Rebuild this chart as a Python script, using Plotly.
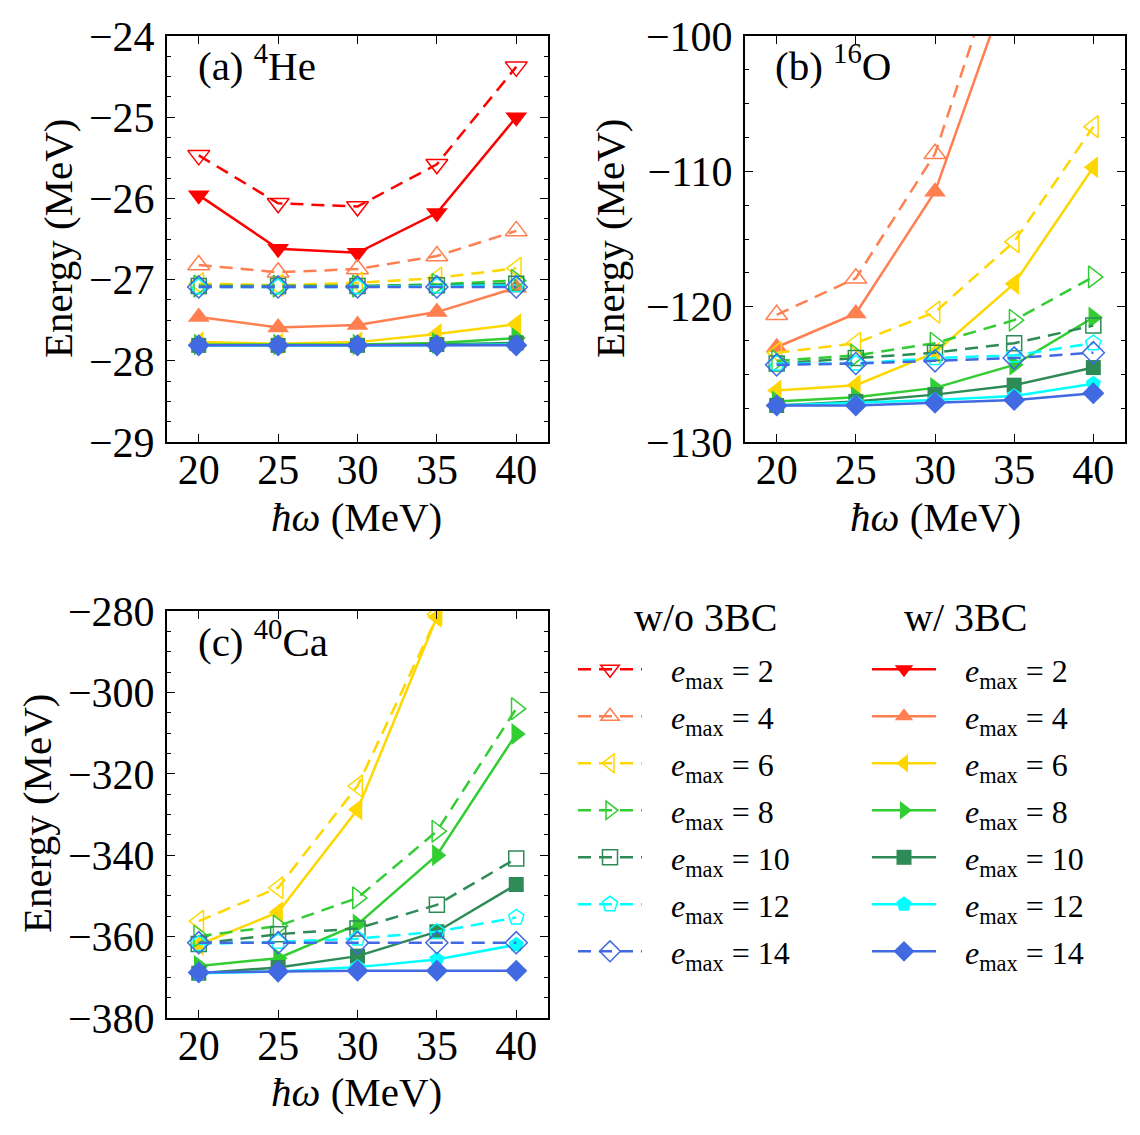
import plotly.graph_objects as go

hw = [20, 25, 30, 35, 40]
emax_list = [2, 4, 6, 8, 10, 12, 14]
colors = ["#FF0000", "#FF7F50", "#FFD700", "#32CD32", "#2E8B57", "#00FFFF", "#4169E1"]
symbols = ["triangle-down", "triangle-up", "triangle-left", "triangle-right", "square", "pentagon", "diamond"]
msizes = [19, 19, 19, 19, 15, 16, 17]

# 4He  (w/o 3BC = dashed/open, w/ 3BC = solid/filled)
he4_wo = {
    2: [-25.47, -26.06, -26.10, -25.58, -24.38],
    4: [-26.82, -26.91, -26.87, -26.71, -26.40],
    6: [-27.05, -27.07, -27.04, -26.98, -26.86],
    8: [-27.08, -27.08, -27.08, -27.06, -27.01],
    10: [-27.08, -27.08, -27.08, -27.07, -27.05],
    12: [-27.09, -27.09, -27.09, -27.08, -27.07],
    14: [-27.09, -27.09, -27.09, -27.09, -27.09],
}
he4_w = {
    2: [-25.96, -26.62, -26.67, -26.18, -25.00],
    4: [-27.46, -27.59, -27.56, -27.40, -27.10],
    6: [-27.77, -27.79, -27.77, -27.67, -27.55],
    8: [-27.80, -27.80, -27.80, -27.78, -27.72],
    10: [-27.81, -27.81, -27.81, -27.80, -27.78],
    12: [-27.81, -27.81, -27.81, -27.81, -27.80],
    14: [-27.81, -27.81, -27.81, -27.81, -27.81],
}
# 16O
o16_wo = {
    4: [-120.6, -117.9, -108.7, -91.0, -70.0],
    6: [-123.4, -122.7, -120.4, -115.2, -106.7],
    8: [-124.0, -123.6, -122.7, -121.0, -117.8],
    10: [-124.2, -123.8, -123.4, -122.7, -121.4],
    12: [-124.2, -124.2, -123.8, -123.6, -122.7],
    14: [-124.3, -124.2, -124.0, -123.8, -123.4],
}
o16_w = {
    4: [-123.0, -120.5, -111.5, -95.0, -75.0],
    6: [-126.2, -125.8, -123.4, -118.3, -109.7],
    8: [-127.0, -126.7, -126.0, -124.3, -120.8],
    10: [-127.3, -127.0, -126.5, -125.8, -124.5],
    12: [-127.3, -127.1, -126.9, -126.6, -125.7],
    14: [-127.3, -127.3, -127.1, -126.9, -126.4],
}
# 40Ca
ca40_wo = {
    6: [-356.2, -348.0, -323.0, -280.8, -240.0],
    8: [-359.9, -357.4, -350.5, -334.1, -304.0],
    10: [-361.8, -359.4, -358.0, -352.2, -340.8],
    12: [-361.8, -361.3, -360.5, -358.8, -355.3],
    14: [-361.5, -361.5, -361.5, -361.5, -361.5],
}
ca40_w = {
    6: [-362.0, -354.0, -328.8, -281.5, -245.0],
    8: [-367.2, -365.3, -357.0, -340.0, -310.2],
    10: [-369.0, -367.6, -364.8, -358.8, -347.2],
    12: [-369.0, -368.6, -367.5, -365.6, -362.0],
    14: [-368.8, -368.6, -368.4, -368.4, -368.4],
}

panels = [
    ("x", "y", he4_wo, he4_w, True),
    ("x2", "y2", o16_wo, o16_w, False),
    ("x3", "y3", ca40_wo, ca40_w, False),
]

FONT = "Liberation Serif"
fig = go.Figure()

for xa, ya, wo, w, show in panels:
    for i, em in enumerate(emax_list):
        lab = f"&nbsp;&nbsp;&nbsp;<i>e</i><sub>max</sub> = {em}"
        if em in wo:
            fig.add_trace(go.Scatter(
                x=hw, y=wo[em], xaxis=xa, yaxis=ya, mode="lines+markers",
                name=lab, legend="legend", legendgroup=f"wo{em}", showlegend=show,
                line=dict(color=colors[i], width=2.5, dash="13px,8px"),
                marker=dict(symbol=symbols[i] + "-open", size=msizes[i], color=colors[i],
                            line=dict(color=colors[i], width=1.5)),
                cliponaxis=True,
            ))
        if em in w:
            fig.add_trace(go.Scatter(
                x=hw, y=w[em], xaxis=xa, yaxis=ya, mode="lines+markers",
                name=lab, legend="legend2", legendgroup=f"w{em}", showlegend=show,
                line=dict(color=colors[i], width=2.5),
                marker=dict(symbol=symbols[i], size=msizes[i], color=colors[i]),
                cliponaxis=True,
            ))

def xax(domain, anchor):
    return dict(domain=domain, anchor=anchor, range=[18, 42], tickvals=hw,
                ticks="inside", ticklen=8, tickwidth=1, tickcolor="black",
                showline=True, linecolor="black", linewidth=2, mirror="allticks",
                showgrid=False, zeroline=False, automargin=False, ticklabelstandoff=-10,
                tickfont=dict(family=FONT, size=42, color="black"))

def yax(domain, anchor, rng, dtick, minor):
    return dict(domain=domain, anchor=anchor, range=rng, dtick=dtick, tick0=0,
                ticks="inside", ticklen=8, tickwidth=1, tickcolor="black",
                minor=dict(ticks="inside", ticklen=4, tickwidth=1, dtick=minor, tickcolor="black"),
                showline=True, linecolor="black", linewidth=2, mirror="allticks",
                showgrid=False, zeroline=False, automargin=False, ticklabelstandoff=2,
                tickfont=dict(family=FONT, size=42, color="black"))

W, H = 1140, 1135
dxa = [167 / W, 548 / W]
dxb = [745 / W, 1125 / W]
dytop = [1 - 442 / H, 1 - 36 / H]
dybot = [1 - 1018 / H, 1 - 611 / H]

annotations = []
def ann(text, x, y, size, angle=0, xanchor="center", yanchor="middle"):
    annotations.append(dict(text=text, x=x / W, y=1 - y / H, xref="paper", yref="paper",
                            showarrow=False, textangle=angle, xanchor=xanchor, yanchor=yanchor,
                            font=dict(family=FONT, size=size, color="black")))

# axis titles
ann("Energy (MeV)", 58, 239, 41, angle=-90)
ann("Energy (MeV)", 610, 239, 41, angle=-90)
ann("Energy (MeV)", 37, 814, 41, angle=-90)
ann("<i>ħω</i> (MeV)", 357, 517, 41)
ann("<i>ħω</i> (MeV)", 935, 517, 41)
ann("<i>ħω</i> (MeV)", 357, 1092, 41)
# panel labels
ann("(a) <sup>4</sup>He", 196, 63, 41, xanchor="left")
ann("(b) <sup>16</sup>O", 773, 63, 41, xanchor="left")
ann("(c) <sup>40</sup>Ca", 196, 639, 41, xanchor="left")
# legend headers
ann("w/o 3BC", 705, 617, 40)
ann("w/ 3BC", 965, 617, 40)

leg_common = dict(font=dict(family=FONT, size=32, color="black"), bgcolor="rgba(0,0,0,0)",
                  tracegroupgap=2.4, itemwidth=64, xanchor="left", yanchor="top")

fig.update_layout(
    template="none",
    width=W, height=H, margin=dict(l=0, r=0, t=0, b=0, pad=0, autoexpand=False),
    paper_bgcolor="white", plot_bgcolor="white",
    font=dict(family=FONT, color="black"),
    xaxis=xax(dxa, "y"), yaxis=yax(dytop, "x", [-29, -24], 1, 0.25),
    xaxis2=xax(dxb, "y2"), yaxis2=yax(dytop, "x2", [-130, -100], 10, 2.5),
    xaxis3=xax(dxa, "y3"), yaxis3=yax(dybot, "x3", [-380, -280], 20, 5),
    annotations=annotations,
    legend=dict(x=573 / W, y=1 - 642 / H, **leg_common),
    legend2=dict(x=867 / W, y=1 - 642 / H, **leg_common),
)

fig.write_html("out.html")
